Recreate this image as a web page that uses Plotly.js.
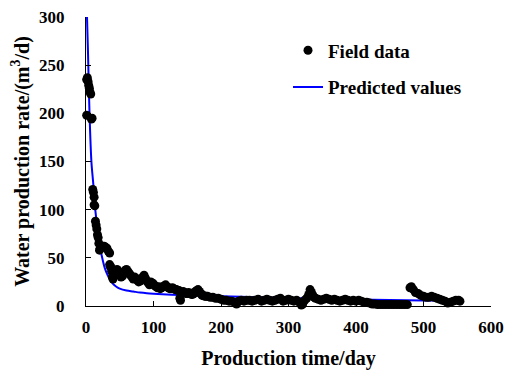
<!DOCTYPE html>
<html>
<head>
<meta charset="utf-8">
<script src="https://cdn.plot.ly/plotly-3.0.1.min.js"></script>
<style>html,body{margin:0;padding:0;background:#fff;}#chart{width:507px;height:371px;}</style>
</head>
<body>
<div id="chart"></div>
<script>
// Field data (day, water production rate m3/d)
const fieldDays = [1,1,2,3,4,5,6,7,8,9,
  10,11,12,12,13,14,15,16,17,18,19,20,21,23,25,27,29,31,33,35,35,36,37,38,39,40,42,44,46,48,50,52,54,56,58,60,62,64,66,68,70,72,74,76,78,80,82,84,86,88,90,92,94,96,98,100,
  102,104,106,108,110,112,114,116,118,120,122,124,126,128,130,132,134,136,138,139,140,142,144,146,148,150,152,154,156,158,160,162,164,166,168,170,172,174,176,178,180,184,188,192,196,200,
  204,208,212,216,220,223,226,230,234,238,242,246,250,255,260,264,268,272,276,280,284,288,292,296,300,304,308,312,316,319,321,324,327,330,332,334,336,338,340,344,348,352,356,360,364,368,372,376,380,384,388,392,396,400,404,408,412,416,420,424,428,
  432,436,440,444,448,452,456,460,464,468,472,476,480,482,485,488,492,496,500,504,508,512,516,520,524,528,532,536,540,544,548,552,554];
const fieldRates = [198,235,237,233,229,226,222,220,194,195,
  121,118,113,105,104,88,84,80,74,71,65,58,60,61,62,62,61,60,57,55,43,41,40,36,30,28,33,36,38,36,33,30,31,34,37,38,36,34,32,30,28,30,29,27,25,26,28,30,32,29,26,24,22,25,24,23,
  21,20,19,20,18,19,20,21,22,20,19,18,18,19,18,17,17,16,16,8,6,14,15,14,13,13,14,13,12,12,13,15,16,17,15,13,11,11,10,10,10,9,9,8,8,7,
  6,6,5,5,4,2,5,6,5,6,6,5,6,7,5,6,7,6,5,6,7,8,5,6,7,6,5,6,4,1,2,6,8,12,17,14,11,9,8,7,6,7,8,7,6,7,6,5,6,7,6,5,6,5,6,5,4,4,3,2,2,
  1.5,1.5,1.5,1.5,1.5,1.5,1.5,1.5,1.5,1.5,1.5,1.5,19,20,17,14,13,11,10,9,9,10,9,8,7,6,5,3,4,5,6,6,5];

// Predicted values curve
const predDays = [1.5,3,5,8,11,13,15,18,21,24,28,32,36,40,45,50,60,70,80,90,100,120,140,170,200,230,260,300,350,400,450,500,550];
const predRates = [300,262,205,150,125,105,92,74,60,50,39,32,27,23,20,18,16,15,14,13.3,12.8,12,11.3,10.6,10,9.6,9,8.3,7.5,6.8,6.2,5.8,5.5];

// Tick values and labels
const xTickVals = [0,100,200,300,400,500,600];
const xTickText = ['0','100','200','300','400','500','600'];
const yTickVals = [0,50,100,150,200,250,300];
const yTickText = ['0','50','100','150','200','250','300'];

const FONT = 'Liberation Serif, Times New Roman, serif';
const bold = a => a.map(s => '<b>' + s + '</b>');

const traces = [
  {x: predDays, y: predRates, type: 'scatter', mode: 'lines', name: '<b>Predicted values</b>',
   line: {color: '#0000ff', width: 2, shape: 'spline'}, legendrank: 2, legendgroup: 'b'},
  {x: fieldDays, y: fieldRates, type: 'scatter', mode: 'markers', name: '<b>Field data</b>',
   marker: {color: '#000000', size: 9}, legendrank: 1, legendgroup: 'a', cliponaxis: false}
];

const layout = {
  width: 507, height: 371,
  margin: {l: 86, r: 16, t: 17, b: 65},
  paper_bgcolor: '#fff', plot_bgcolor: '#fff',
  font: {family: FONT, size: 16, color: '#000'},
  showlegend: true,
  legend: {x: 0.4988, y: 0.95, xanchor: 'left', yanchor: 'top', bgcolor: 'rgba(0,0,0,0)',
    font: {family: FONT, size: 19, color: '#000'},
    traceorder: 'grouped', tracegroupgap: 9},
  xaxis: {range: [0, 600], tickmode: 'array', tickvals: xTickVals, ticktext: bold(xTickText),
    showgrid: false, zeroline: false,
    showline: true, linecolor: '#000', linewidth: 1, ticks: 'inside', ticklen: 5, tickcolor: '#000',
    ticklabelstandoff: 6,
    tickfont: {family: FONT, size: 17, color: '#000'},
    title: {text: '<b>Production time/day</b>', font: {family: FONT, size: 20, color: '#000'}, standoff: 14}},
  yaxis: {range: [0, 300], tickmode: 'array', tickvals: yTickVals, ticktext: bold(yTickText),
    showgrid: false, zeroline: false,
    showline: true, linecolor: '#000', linewidth: 1, ticks: 'inside', ticklen: 5, tickcolor: '#000',
    ticklabelstandoff: 17,
    tickfont: {family: FONT, size: 17, color: '#000'},
    title: {text: '<b>Water production rate/(m<sup>3</sup>/d)</b>', font: {family: FONT, size: 20, color: '#000'}, standoff: 4}}
};

Plotly.newPlot('chart', traces, layout, {displayModeBar: false, staticPlot: true});
</script>
</body>
</html>
